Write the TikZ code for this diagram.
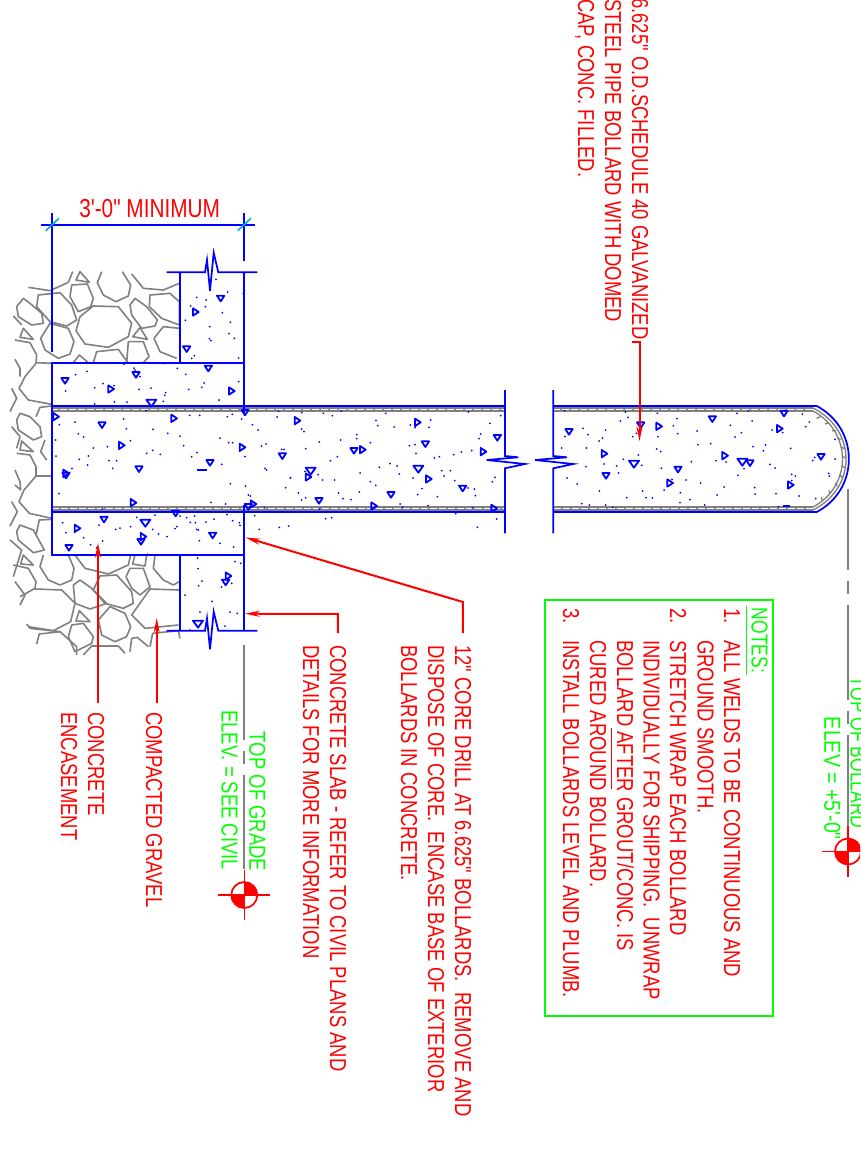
\documentclass[tikz,border=0pt]{standalone}
\usepackage{xcolor}
\usepackage{fontspec}
\usepackage{tikz}
\usetikzlibrary{arrows.meta}
\newfontfamily\cadfont[FakeStretch=0.8]{Liberation Sans}
\newfontfamily\cadnote[FakeStretch=0.76]{Liberation Sans}
\newfontfamily\cadelev[FakeStretch=0.85]{Liberation Sans}
\tikzset{
    bluln/.style={blue,line width=1.3pt},
    greyln/.style={gray,line width=1.2pt,line join=round},
    wall/.style={gray,line width=1pt},
    centerln/.style={gray,line width=1.3pt,dash pattern=on 71pt off 8.5pt on 9.5pt off 8.5pt},
    leader/.style={red,line width=1.5pt,shorten <=7pt,-{Stealth[length=11pt,width=4.5pt]}},
    lbl/.style={text=red,font=\cadfont\fontsize{17.3}{20}\selectfont,inner sep=0pt,rotate=-90,anchor=base west},
    greenlbl/.style={lbl,text=green},
    aggr/.style={blue,line width=1.35pt,line join=round},
    aggrdot/.style={blue},
}
\newcommand{\aggrtri}{(-11,-8) -- (11,-8) -- (0,9) -- cycle}
\newcommand{\aggrbig}{(-15,-8) -- (15,-8) -- (0,13) -- cycle}
\begin{document}
\begin{tikzpicture}[x=0.75pt,y=-0.75pt]
    \clip (0,0) rectangle (860,1170);
    \fill[white] (0,0) rectangle (860,1170);
    % Named points
    \coordinate (dimleft) at (41,224.7);
    \coordinate (dimright) at (255,224.7);
    \coordinate (encasept) at (98,543);
    \coordinate (gravelpt) at (156.7,618);
    \coordinate (slabpt) at (245,613.7);
    \coordinate (corept) at (245.5,537.5);
    \coordinate (pipept) at (639.5,441);
    \coordinate (gradetop) at (244.3,645);
    \coordinate (grademark) at (244.3,895);
    \coordinate (bollardtop) at (848,489);
    \coordinate (bollardmark) at (848,851.5);
    % Gravel, upper half
    \begin{scope}[shift={(0,200)},x=.25pt,y=-.25pt]
        \foreach \p in {
            {(85,262) -- (150,272) -- (205,247) -- (218,215)},
            {(240,215) -- (268,247) -- (228,240) -- cycle},
            {(305,215) -- (292,248) -- (310,285) -- (348,305) -- (385,288) -- (392,255) -- (367,215)},
            {(395,222) -- (430,265) -- (490,270) -- (538,250)},
            {(215,255) -- (262,252) -- (280,295) -- (272,320) -- (235,335) -- (210,290) -- cycle},
            {(280,318) -- (355,320) -- (395,370) -- (385,410) -- (325,442) -- (255,432) -- (228,392) -- (240,350) -- cycle},
            {(115,285) -- (180,278) -- (215,315) -- (230,360) -- (200,378) -- (150,365) -- (110,320) -- cycle},
            {(70,295) -- (50,320) -- (55,350) -- (95,375) -- (130,370) -- (125,340) -- (90,310) -- cycle},
            {(405,295) -- (440,320) -- (472,360) -- (465,378) -- (425,385) -- (395,345) -- (390,315) -- cycle},
            {(450,285) -- (510,280) -- (538,305) -- (538,375) -- (485,355) -- (448,320) -- cycle},
            {(538,385) -- (490,380) -- (462,415) -- (480,455) -- (530,475)},
            {(150,370) -- (205,385) -- (222,425) -- (210,462) -- (175,475) -- (135,450) -- (122,415) -- cycle},
            {(70,385) -- (100,418) -- (60,412) -- cycle},
            {(420,383) -- (442,418) -- (398,410) -- cycle},
            {(40,348) -- (65,375)},
            {(45,420) -- (90,428) -- (110,465) -- (108,488) -- (155,490)},
            {(108,490) -- (75,530) -- (57,565) -- (85,600) -- (155,613)},
            {(45,478) -- (60,505) -- (60,530)},
            {(35,565) -- (50,595) -- (30,635)},
            {(220,488) -- (238,465) -- (265,488)},
            {(280,488) -- (290,455) -- (355,448) -- (385,490)},
            {(380,488) -- (385,425) -- (430,425) -- (447,470) -- (430,488)},
            {(155,618) -- (120,622) -- (108,650)},
            {(60,640) -- (50,660) -- (55,690) -- (100,720) -- (125,710) -- (120,680) -- (90,650) -- cycle},
            {(35,680) -- (60,710) -- (50,745)}
        } \draw[greyln] \p;
    \end{scope}
    % Gravel, lower half
    \begin{scope}[shift={(0,440)},x=.25pt,y=-.25pt]
        \foreach \p in {
            {(65,3) -- (100,35) -- (60,30) -- cycle},
            {(135,0) -- (122,35) -- (140,60)},
            {(50,40) -- (90,45) -- (108,80) -- (108,108) -- (155,108)},
            {(108,108) -- (72,150) -- (57,185) -- (88,220) -- (155,235)},
            {(45,90) -- (60,125) -- (62,150) -- (45,135)},
            {(35,185) -- (52,215) -- (30,258)},
            {(155,238) -- (118,240) -- (108,285)},
            {(60,255) -- (100,270) -- (133,330) -- (100,338) -- (55,300) -- (50,275) -- cycle},
            {(30,300) -- (65,330) -- (40,410)},
            {(70,345) -- (100,375) -- (62,372) -- cycle},
            {(40,375) -- (85,385) -- (108,425) -- (105,445) -- (60,470)},
            {(45,425) -- (75,465) -- (60,495)},
            {(105,447) -- (185,450) -- (225,490) -- (212,545) -- (160,572) -- (85,560)},
            {(130,345) -- (120,380) -- (145,420) -- (180,435) -- (215,420) -- (222,385) -- (205,345)},
            {(225,345) -- (255,385) -- (325,402) -- (385,375) -- (392,345)},
            {(405,345) -- (440,345) -- (435,378) -- (398,372) -- cycle},
            {(465,345) -- (460,385) -- (490,420) -- (520,435) -- (538,425)},
            {(240,420) -- (275,445) -- (320,490) -- (270,507) -- (225,490) -- (220,435) -- cycle},
            {(300,408) -- (350,405) -- (395,455) -- (400,490) -- (370,505) -- (315,490) -- (280,450) -- cycle},
            {(390,385) -- (430,385) -- (450,440) -- (420,465) -- (395,445) -- (378,410) -- cycle},
            {(538,450) -- (450,447) -- (395,525) -- (435,565) -- (535,555)},
            {(238,512) -- (270,545) -- (228,543) -- cycle},
            {(330,500) -- (375,520) -- (392,560) -- (380,590) -- (345,605) -- (305,585) -- (295,540) -- cycle},
            {(215,555) -- (250,550) -- (280,590) -- (275,610) -- (225,635) -- (205,590) -- cycle},
            {(80,552) -- (90,565) -- (180,575) -- (230,620) -- (230,645)},
            {(110,612) -- (118,582) -- (180,575)},
            {(250,645) -- (275,618) -- (355,618) -- (375,640)},
            {(390,635) -- (395,595) -- (412,592) -- (445,620)},
            {(450,620) -- (458,580) -- (535,572) -- (540,595)}
        } \draw[greyln] \p;
    \end{scope}
    % Pipe wall
    \foreach \y in {408, 411, 507, 510} {
        \draw[wall] (52,\y) -- (505,\y);
        \draw[wall] (553.3,\y) -- (813,\y);
    }
    \foreach \x in {58,67,...,500} {
        \draw[wall] (\x,411) -- (\x+3,407);
        \draw[wall] (\x,511) -- (\x+3,507);
    }
    \foreach \x in {560,569,...,805} {
        \draw[wall] (\x,411) -- (\x+3,407);
        \draw[wall] (\x,511) -- (\x+3,507);
    }
    \draw[wall] (813,408) .. controls (857,430) and (857,488) .. (813,510);
    \draw[wall] (813,411) .. controls (852.3,432) and (852.3,486) .. (813,507);
    \foreach \a in {-58,-47,...,58}
        \draw[wall] ({787.5+55*cos(\a)},{459+48*sin(\a)}) -- ({787.5+58.5*cos(\a+2)},{459+51*sin(\a+2)});
    % Pipe outline
    \draw[bluln] (52,406) -- (505,406);
    \draw[bluln] (52,512) -- (505,512);
    \draw[bluln] (553.3,406) -- (816.7,406) .. controls (859.6,428.5) and (859.6,489.5) .. (816.7,512) -- (553.3,512);
    % Break lines
    \draw[bluln] (505,390) -- (505,456) -- (518.3,457.3) -- (486.7,460) -- (525,464) -- (505,468.3) -- (505,533.3);
    \draw[bluln] (553.3,390) -- (553.3,456) -- (566.7,457.3) -- (535,460) -- (573.3,464) -- (553.3,468.3) -- (553.3,533.3);
    % Encasement and slab
    \draw[bluln] (52,351.7) -- (52,213.3);
    \draw[bluln] (244.3,261) -- (244.3,213.3);
    \draw[bluln] (dimleft) -- (dimright);
    \draw[cyan,line width=1.2pt] (45.7,230.7) -- (59,218.3);
    \draw[cyan,line width=1.2pt] (237.7,230.7) -- (251,218.3);
    \draw[bluln] (52,363) rectangle (244.3,555);
    \draw[white,line width=2pt] (244.3,413) -- (244.3,505);
    \draw[bluln] (180,363) -- (180,272.3);
    \draw[bluln] (244.3,363) -- (244.3,272.3);
    \draw[bluln] (180,555) -- (180,630.7);
    \draw[bluln] (244.3,555) -- (244.3,630.7);
    \draw[bluln] (166.7,272.3) -- (205,272.3) -- (207,260) -- (210,290.7) -- (213.7,252.7) -- (218.3,272.3) -- (257.3,272.3);
    \draw[bluln] (166.7,630.7) -- (205,630.7) -- (207,618.3) -- (210,649.3) -- (213.7,611.7) -- (218.3,630.7) -- (257.3,630.7);
    % Aggregate
    \begin{scope}[shift={(0,200)},x=.25pt,y=-.25pt]
        \foreach \a/\b/\r in {662/295/0, 587/336/90, 560/447/0, 625/505/0, 408/524/0, 195/542/0, 333/567/90, 695/573/90, 168/650/90, 306/675/0, 522/655/90, 735/637/0}
            \draw[aggr,shift={(\a,\b)},rotate=\r] \aggrtri;
        \foreach \a/\b in {454/607}
            \draw[aggr,shift={(\a,\b)}] \aggrbig;
        \foreach \a/\b in {648/238,683/276,590/292,618/300,572/318,616/320,667/338,556/361,691/367,629/380,687/401,703/415,628/416,633/422,583/467,575/475,716/474,730/280,372/492,492/491,402/504,405/510,532/505,557/523,420/530,227/524,261/514,342/557,309/551,284/563,417/568,453/564,197/573,566/568,605/562,612/549,716/545,497/578,494/586,490/604,657/600,343/606,381/606,284/612,438/632,178/674,371/657,569/646,599/646,682/650,697/643,725/657,757/674,831/651,836/633,225/666,379/686,459/688,540/708,503/700,235/701,251/711,660/714,774/690,167/720}
            \fill[aggrdot] (\a,\b) circle[radius=.75pt];
    \end{scope}
    \begin{scope}[shift={(0,440)},x=.25pt,y=-.25pt]
        \foreach \a/\b/\r in {365/16/90, 727/22/90, 847/48/0, 630/68/0, 417/87/0, 198/100/90, 198/106/0, 400/188/90, 745/200/0, 760/192/90, 312/238/0, 527/220/0, 232/265/90, 638/286/0, 430/290/90, 423/305/0, 207/323/0, 685/408/90, 677/427/0}
            \draw[aggr,shift={(\a,\b)},rotate=\r] \aggrtri;
        \foreach \a/\b in {436/247, 594/550}
            \draw[aggr,shift={(\a,\b)}] \aggrbig;
        \draw[aggr] (592,90) -- (622,90);
        \foreach \a/\b in {280/24,322/20,168/48,238/58,265/48,327/62,350/62,263/75,216/85,338/85,391/2,440/40,458/31,481/43,551/17,575/50,591/38,665/73,686/8,698/8,735/50,784/18,798/12,845/28,852/28,795/85,800/90,871/113,857/143,691/131,736/138,177/161,633/187,677/192,745/165,751/168,793/203,307/207,188/248,198/278,251/293,272/314,290/323,308/303,297/255,347/268,360/264,392/260,410/232,465/225,458/268,476/282,501/290,525/266,531/260,540/228,560/233,571/247,586/248,584/228,618/246,642/237,681/224,698/242,718/248,720/256,598/302,660/310,701/321,764/227,778/268,838/262,866/258,593/354,594/386,705/365,722/370,606/423,596/437,665/441,695/430,555/465,636/484,600/516,690/516,712/520,675/558,570/570,443/343,590/268,595/270}
            \fill[aggrdot] (\a,\b) circle[radius=.75pt];
    \end{scope}
    \begin{scope}[shift={(290,400)},x=.25pt,y=-.25pt]
        \foreach \a/\b/\r in {22/62/90, 192/152/0, 218/149/90, 383/67/90, 406/132/0, 622/113/0, 580/155/90, 55/231/90, 416/237/90, 518/265/0, 303/284/0, 87/302/0, 252/318/90, 612/325/90}
            \draw[aggr,shift={(\a,\b)},rotate=\r] \aggrtri;
        \foreach \a/\b in {62/211, 385/205}
            \draw[aggr,shift={(\a,\b)}] \aggrbig;
        \foreach \a/\b in {35/38,100/40,127/47,154/33,287/40,535/36,632/47,258/61,263/77,312/81,361/75,422/60,417/82,375/83,600/70,35/87,42/95,200/104,200/116,152/120,88/126,241/128,47/146,358/137,375/134,572/102,567/116,378/160,545/152,514/156,491/164,448/170,433/174,142/170,121/182,300/191,321/198,268/202,45/214,84/224,210/219,328/222,455/212,481/212,462/228,98/240,134/240,2/234,241/245,257/256,369/234,494/242,615/232,607/245,396/266,534/264,553/267,25/279,146/279,208/276,383/284,442/290,556/287,47/293,35/300,159/296,183/299,330/312,338/321,414/317,547/323,88/327,220/335,497/341,107/356,125/353,620/357}
            \fill[aggrdot] (\a,\b) circle[radius=.75pt];
    \end{scope}
    \begin{scope}[shift={(470,380)},x=.25pt,y=-.25pt]
        \foreach \a/\b/\r in {297/155/0, 403/221/90, 408/287/0, 512/135/0, 567/139/90, 624/268/0, 600/309/90, 727/117/0, 765/227/90, 840/249/0, 929/146/90, 942/100/0, 962/315/90, 1053/230/0}
            \draw[aggr,shift={(\a,\b)},rotate=\r] \aggrtri;
        \foreach \a/\b in {492/250, 817/244}
            \draw[aggr,shift={(\a,\b)}] \aggrbig;
        \draw[aggr] (940,378) -- (960,378);
        \foreach \a/\b in {22/442,283/92,339/145,354/164,407/150,387/183,398/174,285/170,275/204,349/204,402/252,348/260,291/294,321/312,388/333,440/258,460/238,446/279,515/256,505/225,466/96,474/112,451/123,562/100,621/116,610/137,623/161,499/160,488/170,564/170,681/153,560/207,572/215,574/265,606/298,648/300,664/245,684/194,722/191,738/242,768/246,692/309,762/321,741/345,801/100,834/93,846/123,781/136,814/158,795/171,906/150,938/158,1007/140,1018/126,997/102,1095/178,849/200,887/195,880/212,962/205,900/253,915/264,1034/232,1028/242,1095/237,804/286,822/266,965/283,976/288,965/302,1076/280,1078/288,854/323,855/342,918/341,987/348,1037/356,518/333,470/353,528/353,547/354,582/330,631/338,660/359,630/368,704/375,358/375,335/371,407/375,428/382,925/380}
            \fill[aggrdot] (\a,\b) circle[radius=.75pt];
    \end{scope}
    % Elevation marks
    \draw[centerln] (gradetop) -- (244.3,869.3);
    \draw[centerln,dash phase=10.5pt] (bollardtop) -- (848,826);
    \foreach \c in {grademark, bollardmark} {
        \draw[red,line width=1.3pt] (\c) circle[radius=9.75pt];
        \draw[red,line width=1.2pt] ([yshift=19pt]\c) -- ([yshift=-19pt]\c);
        \draw[red,line width=1.2pt] ([xshift=-19.5pt]\c) -- ([xshift=19.5pt]\c);
        \fill[red] (\c) -- ++(9.75pt,0pt) arc[start angle=0,end angle=90,radius=9.75pt] -- cycle;
        \fill[red] (\c) -- ++(-9.75pt,0pt) arc[start angle=180,end angle=270,radius=9.75pt] -- cycle;
    }
    % Labels
    \node[text=red,font=\cadfont\fontsize{19.5}{22}\selectfont,inner sep=0pt,anchor=base west] (dimlbl) at (79,217) {3'-0" MINIMUM};
    \node[lbl] (pipeone) at (632,-2) {6.625" O.D.SCHEDULE 40 GALVANIZED};
    \node[lbl] (pipetwo) at (605,-1) {STEEL PIPE BOLLARD WITH DOMED};
    \node[lbl] (pipethree) at (578,-1) {CAP, CONC. FILLED.};
    \node[lbl] (coreone) at (455,645) {12" CORE DRILL AT 6.625" BOLLARDS.\ \ REMOVE AND};
    \node[lbl] (coretwo) at (428,645) {DISPOSE OF CORE.\ \ ENCASE BASE OF EXTERIOR};
    \node[lbl] (corethree) at (401,645) {BOLLARDS IN CONCRETE.};
    \node[lbl] (slabone) at (330,645) {CONCRETE SLAB - REFER TO CIVIL PLANS AND};
    \node[lbl] (slabtwo) at (303,645) {DETAILS FOR MORE INFORMATION};
    \node[lbl] (gravellbl) at (146,712) {COMPACTED GRAVEL};
    \node[lbl] (encaseone) at (88,712) {CONCRETE};
    \node[lbl] (encasetwo) at (61,712) {ENCASEMENT};
    \node[greenlbl] (gradelbl) at (249.3,731.7) {TOP OF GRADE};
    \node[greenlbl] (gradeelev) at (221.7,710) {ELEV. = SEE CIVIL};
    \node[greenlbl,font=\cadnote\fontsize{17.3}{20}\selectfont] (bollardlbl) at (850.7,676.7) {TOP OF BOLLARD};
    \node[greenlbl,font=\cadelev\fontsize{17.3}{20}\selectfont] (bollardelev) at (824.3,716.7) {ELEV = +5'-0"};
    % Notes
    \draw[green,line width=1.4pt] (545,600) rectangle (772.7,1016);
    \node[greenlbl,font=\cadnote\fontsize{17.3}{20}\selectfont] (notes) at (751.7,607.7) {NOTES:};
    \node[lbl] (numone) at (724,608) {1.};
    \node[lbl] (numtwo) at (670,608) {2.};
    \node[lbl] (numthree) at (563,608) {3.};
    \node[lbl] (noteone) at (724,640) {ALL WELDS TO BE CONTINUOUS AND};
    \node[lbl] (notetwo) at (697.5,640) {GROUND SMOOTH.};
    \node[lbl] (notethree) at (670,640) {STRETCH WRAP EACH BOLLARD};
    \node[lbl] (notefour) at (643.5,640) {INDIVIDUALLY FOR SHIPPING.\ \ UNWRAP};
    \node[lbl] (notefive) at (617,640) {BOLLARD AFTER GROUT/CONC. IS};
    \node[lbl] (notesix) at (590,640) {CURED AROUND BOLLARD.};
    \node[lbl] (noteseven) at (563,640) {INSTALL BOLLARDS LEVEL AND PLUMB.};
    \draw[green,line width=1.1pt] (746.7,606) -- (746.7,675);
    \draw[red,line width=1.1pt] (611.7,728) -- (611.7,789);
    % Leaders
    \draw[leader] (encasept |- encaseone.west) -- (encasept);
    \draw[leader] (gravelpt |- gravellbl.west) -- (gravelpt);
    \draw[leader,shorten <=9pt] (slabone.west) -- ++(0,-31) -- (slabpt);
    \draw[leader,shorten <=9pt] (coreone.west) -- ++(0,-43) -- (corept);
    \coordinate (pipejog) at (pipept |- pipeone.east);
    \draw[leader,shorten <=0pt] ([xshift=-6pt,yshift=-1.5pt]pipejog) -- ([yshift=-1.5pt]pipejog) -- (pipept);
\end{tikzpicture}
\end{document}
